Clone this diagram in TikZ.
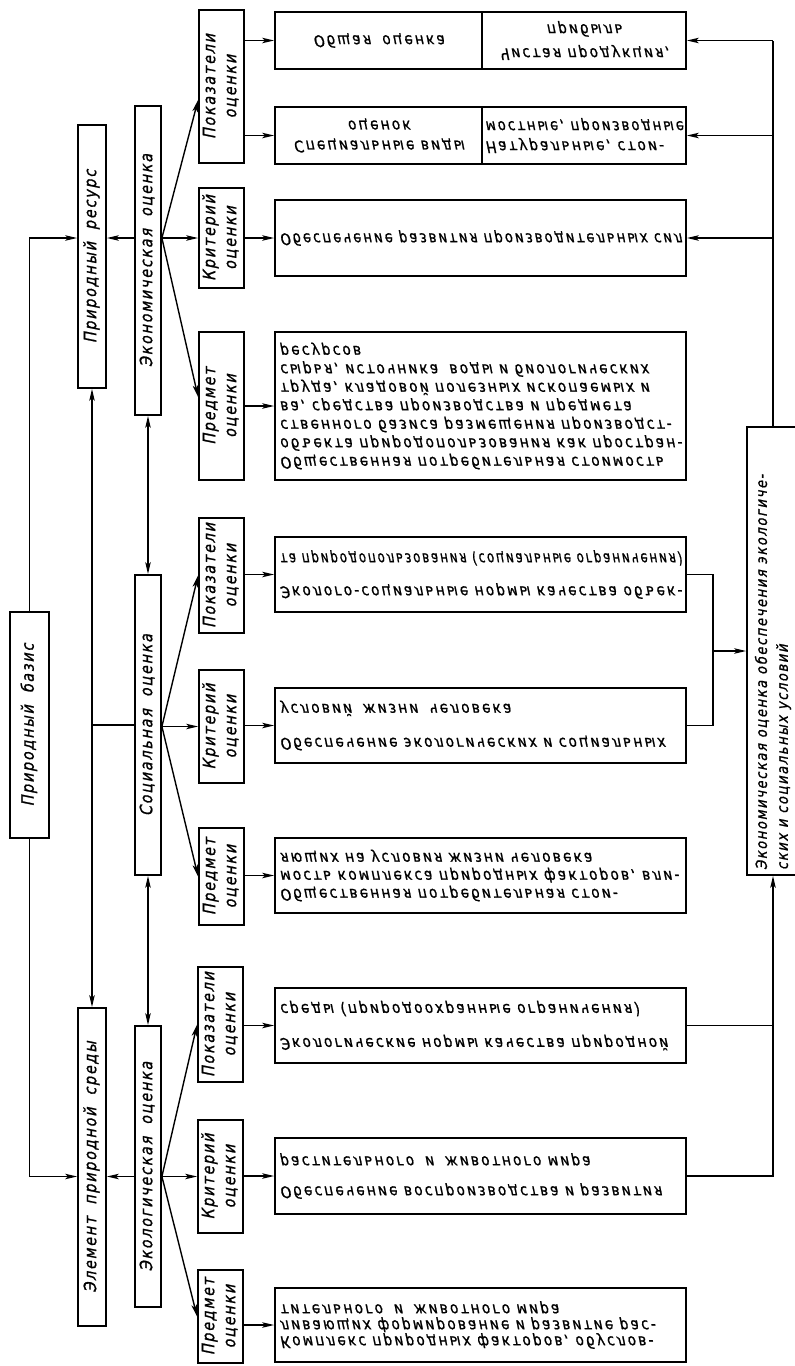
\documentclass[tikz,border=0pt]{standalone}
\usepackage{fontspec}
\usepackage{graphicx}
\usetikzlibrary{arrows.meta}
\newfontfamily\gost{DejaVu Sans}[FakeSlant=0.2,FakeStretch=0.85,LetterSpace=10,FakeBold=1.0]
\newfontfamily\gostr{DejaVu Sans}[FakeSlant=0.2,FakeStretch=0.85,LetterSpace=14,FakeBold=1.0]
\newcommand{\vlab}[1]{\rotatebox{90}{\begin{tabular}{@{}c@{}}#1\end{tabular}}}
\newcommand{\flip}[3]{\rotatebox[origin=c]{180}{\reflectbox{\parbox{#1}{\fontsize{16}{#2}\selectfont #3}}}}
\newsavebox{\fitbox}
\newcommand{\fitl}[1]{\sbox{\fitbox}{#1}\ifdim\wd\fitbox>\linewidth\resizebox{\linewidth}{\height}{\usebox{\fitbox}}\else\usebox{\fitbox}\fi}
\newcommand{\gap}{\hspace{0.7em}}
\begin{document}
\begin{tikzpicture}[x=1pt,y=-1pt,
  box/.style={draw,line width=1.8pt,inner sep=0pt,font=\gost\fontsize{17}{21}\selectfont},
  rbox/.style={draw,line width=1.8pt,inner sep=0pt,font=\gostr\fontsize{16}{18}\selectfont},
  conn/.style={line width=1.4pt},
  arr/.style={conn,-{Stealth[length=12pt,width=5.5pt,inset=3pt]}},
  darr/.style={conn,{Stealth[length=12pt,width=5.5pt,inset=3pt]}-{Stealth[length=12pt,width=5.5pt,inset=3pt]}}]
\useasboundingbox[fill=white] (0,0) rectangle (795,1366);

% left column
\node[box,minimum width=39pt,minimum height=226pt] (basis) at (29.5,725) {\vlab{Природный\gap базис}};
\node[box,minimum width=28pt,minimum height=263pt] (resurs) at (92,256.5) {\vlab{Природный\gap ресурс}};
\node[box,minimum width=28pt,minimum height=318pt] (element) at (92,1167) {\vlab{Элемент\gap природной\gap среды}};

% evaluation column
\node[box,minimum width=26pt,minimum height=309pt] (econ) at (148,260.5) {\vlab{Экономическая\gap оценка}};
\node[box,minimum width=26pt,minimum height=300pt] (soc) at (148,725) {\vlab{Социальная\gap оценка}};
\node[box,minimum width=26pt,minimum height=281pt] (eco) at (148,1166.5) {\vlab{Экологическая\gap оценка}};

% sub boxes
\node[box,minimum width=45pt,minimum height=153pt] (ePok) at (221.5,86.5) {\vlab{Показатели\\оценки}};
\node[box,minimum width=45pt,minimum height=100pt] (eKrit) at (221.5,238) {\vlab{Критерий\\оценки}};
\node[box,minimum width=45pt,minimum height=148pt] (ePred) at (221.5,406) {\vlab{Предмет\\оценки}};
\node[box,minimum width=45pt,minimum height=115pt] (sPok) at (221.5,575.5) {\vlab{Показатели\\оценки}};
\node[box,minimum width=45pt,minimum height=113pt] (sKrit) at (221.5,726.5) {\vlab{Критерий\\оценки}};
\node[box,minimum width=45pt,minimum height=97pt] (sPred) at (221.5,876.5) {\vlab{Предмет\\оценки}};
\node[box,minimum width=45pt,minimum height=115pt] (cPok) at (220.5,1024.5) {\vlab{Показатели\\оценки}};
\node[box,minimum width=45pt,minimum height=113pt] (cKrit) at (220.5,1176.5) {\vlab{Критерий\\оценки}};
\node[box,minimum width=45pt,minimum height=93pt] (cPred) at (220.5,1316.5) {\vlab{Предмет\\оценки}};

% right boxes (economic)
\node[rbox,minimum width=207pt,minimum height=57pt] (eR1a) at (378.5,40.5) {\flip{200pt}{18pt}{\centering Общая\gap оценка}};
\node[rbox,minimum width=204pt,minimum height=57pt] (eR1b) at (584,40.5) {\flip{198pt}{24pt}{\centering Чистая продукция,\\прибыль}};
\node[rbox,minimum width=207pt,minimum height=57pt] (eR2a) at (378.5,135.5) {\flip{200pt}{20pt}{\centering Специальные виды\\оценок}};
\node[rbox,minimum width=204pt,minimum height=57pt] (eR2b) at (584,135.5) {\flip{198pt}{20pt}{\raggedright \fitl{Натуральные, стои-}\\\fitl{мостные, производные}}};
\node[rbox,minimum width=411pt,minimum height=76pt] (eRk) at (480.5,238) {\flip{402pt}{18pt}{\raggedright \fitl{Обеспечение развития производительных сил}}};
\node[rbox,minimum width=411pt,minimum height=148pt] (eRp) at (480.5,406) {\flip{402pt}{18.5pt}{\raggedright \fitl{Общественная потребительная стоимость}\\\fitl{объекта природопользования как простран-}\\\fitl{ственного базиса размещения производст-}\\\fitl{ва, средства производства и предмета}\\\fitl{труда, кладовой полезных ископаемых и}\\\fitl{сырья, источника\gap воды и биологических}\\\fitl{ресурсов}}};

% right boxes (social)
\node[rbox,minimum width=411pt,minimum height=75pt] (sRp) at (480.5,574.5) {\flip{402pt}{33pt}{\raggedright \fitl{Эколого-социальные нормы качества объек-}\\\fitl{та природопользования (социальные ограничения)}}};
\node[rbox,minimum width=411pt,minimum height=75pt] (sRk) at (480.5,725.5) {\flip{402pt}{34pt}{\raggedright \fitl{Обеспечение экологических и социальных}\\\fitl{условий\gap жизни\gap человека}}};
\node[rbox,minimum width=411pt,minimum height=75pt] (sRd) at (480.5,875.5) {\flip{402pt}{18pt}{\raggedright \fitl{Общественная потребительная стои-}\\\fitl{мость комплекса природных факторов, вли-}\\\fitl{яющих на условия жизни человека}}};

% right boxes (ecological)
\node[rbox,minimum width=411pt,minimum height=75pt] (cRp) at (480.5,1025.5) {\flip{402pt}{34pt}{\raggedright \fitl{Экологические нормы качества природной}\\\fitl{среды (природоохранные ограничения)}}};
\node[rbox,minimum width=411pt,minimum height=76pt] (cRk) at (480.5,1176) {\flip{402pt}{30pt}{\raggedright \fitl{Обеспечение воспроизводства и развития}\\\fitl{растительного\gap и\gap животного мира}}};
\node[rbox,minimum width=411pt,minimum height=74pt] (cRd) at (480.5,1325) {\flip{402pt}{16pt}{\raggedright \fitl{Комплекс природных факторов, обуслов-}\\\fitl{ливающих формирование и развитие рас-}\\\fitl{тительного\gap и\gap животного мира}}};

% final box
\node[box,minimum width=52pt,minimum height=448pt,font=\gost\fontsize{15.5}{21}\selectfont] (final) at (773,651) {\rotatebox{90}{\parbox{438pt}{\raggedright Экономическая оценка обеспечения экологиче-\\ских и социальных условий}}};

% fan origins
\coordinate (eo) at (econ.east |- eKrit.west);
\coordinate (so) at (soc.east |- sKrit.west);
\coordinate (co) at (eco.east |- cKrit.west);

% left connectors
\draw[arr] (basis.north) |- (resurs.west |- eo);
\draw[arr] (basis.south) |- (element.west |- co);
\draw[arr] (econ.west |- eo) -- (resurs.east |- eo);
\draw[arr] (eco.west |- co) -- (element.east |- co);
\draw[darr] (resurs.south) -- (element.north);
\draw[conn] (soc.west) -- (soc.west -| resurs.south);
\draw[darr] (econ.south) -- (soc.north);
\draw[darr] (soc.south) -- (eco.north);

% fans
\draw[arr] (eo) -- ([yshift=-13.5pt]ePok.west);
\draw[arr] (eo) -- (eKrit.west);
\draw[arr] (eo) -- ([yshift=9pt]ePred.west);
\draw[arr] (so) -- (sPok.west);
\draw[arr] (so) -- (sKrit.west);
\draw[arr] (so) -- (sPred.west);
\draw[arr] (co) -- (cPok.west);
\draw[arr] (co) -- (cKrit.west);
\draw[arr] (co) -- (cPred.west);

% sub -> right boxes
\draw[arr] (ePok.east |- eR1a.west) -- (eR1a.west);
\draw[arr] (ePok.east |- eR2a.west) -- (eR2a.west);
\draw[arr] (eKrit.east) -- (eKrit.east -| eRk.west);
\draw[arr] (ePred.east) -- (ePred.east -| eRp.west);
\draw[arr] (sPok.east |- sRp.west) -- (sRp.west);
\draw[arr] (sKrit.east |- sRk.west) -- (sRk.west);
\draw[arr] (sPred.east |- sRd.west) -- (sRd.west);
\draw[arr] (cPok.east |- cRp.west) -- (cRp.west);
\draw[arr] (cKrit.east |- cRk.west) -- (cRk.west);
\draw[arr] (cPred.east |- cRd.west) -- (cRd.west);

% right side: feedback to economic boxes
\draw[conn] (final.north) -- (final.north |- eR1b.east);
\draw[arr] (final.north |- eR1b.east) -- (eR1b.east);
\draw[arr] (final.north |- eR2b.east) -- (eR2b.east);
\draw[arr] (final.north |- eRk.east) -- (eRk.east);

% social bracket
\coordinate (sj) at (713,651);
\draw[conn] (sRp.east) -| (sj) |- (sRk.east);
\draw[arr] (sj) -- (final.west);

% ecological bracket
\draw[arr] (cRk.east) -| (final.south);
\draw[conn] (cRp.east) -- (cRp.east -| final.south);
\end{tikzpicture}
\end{document}
